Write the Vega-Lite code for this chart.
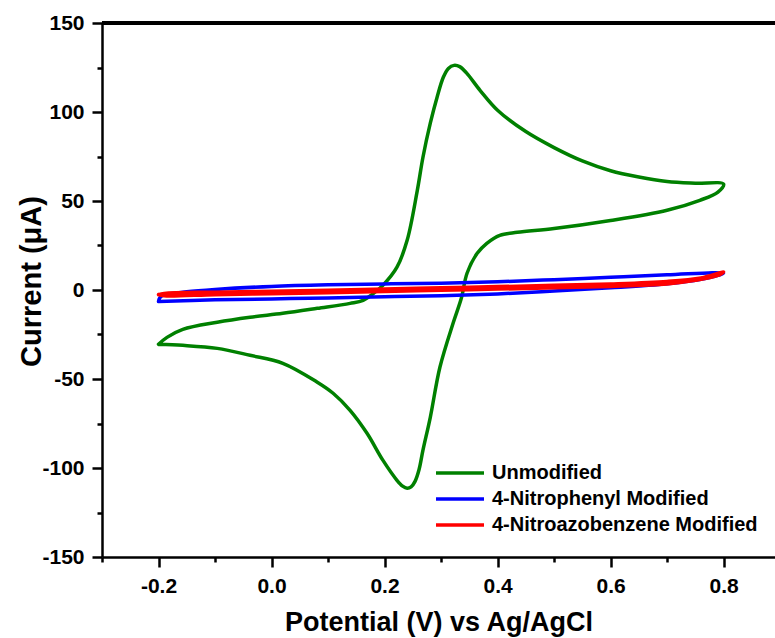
{
  "$schema": "https://vega.github.io/schema/vega-lite/v6.json",
  "width": 673,
  "height": 534,
  "autosize": {"type": "none"},
  "padding": {"left": 102, "top": 23, "right": 0, "bottom": 81},
  "background": "white",
  "config": {"view": {"stroke": null}, "font": "Liberation Sans"},
  "data": {"values": [
    {"s": "Unmodified", "i": 1, "v": -0.2, "c": -30.5},
    {"s": "Unmodified", "i": 2, "v": -0.185, "c": -26.6},
    {"s": "Unmodified", "i": 3, "v": -0.157, "c": -22.1},
    {"s": "Unmodified", "i": 4, "v": -0.096, "c": -18.1},
    {"s": "Unmodified", "i": 5, "v": -0.038, "c": -15.3},
    {"s": "Unmodified", "i": 6, "v": 0.02, "c": -13.1},
    {"s": "Unmodified", "i": 7, "v": 0.081, "c": -10.3},
    {"s": "Unmodified", "i": 8, "v": 0.139, "c": -7.5},
    {"s": "Unmodified", "i": 9, "v": 0.162, "c": -5.8},
    {"s": "Unmodified", "i": 10, "v": 0.18, "c": -2.0},
    {"s": "Unmodified", "i": 11, "v": 0.197, "c": 2.6},
    {"s": "Unmodified", "i": 12, "v": 0.222, "c": 12.8},
    {"s": "Unmodified", "i": 13, "v": 0.24, "c": 27.9},
    {"s": "Unmodified", "i": 14, "v": 0.258, "c": 56},
    {"s": "Unmodified", "i": 15, "v": 0.268, "c": 74.6},
    {"s": "Unmodified", "i": 16, "v": 0.281, "c": 93.7},
    {"s": "Unmodified", "i": 17, "v": 0.293, "c": 108.3},
    {"s": "Unmodified", "i": 18, "v": 0.304, "c": 119.5},
    {"s": "Unmodified", "i": 19, "v": 0.313, "c": 124.5},
    {"s": "Unmodified", "i": 20, "v": 0.323, "c": 126.2},
    {"s": "Unmodified", "i": 21, "v": 0.333, "c": 125.5},
    {"s": "Unmodified", "i": 22, "v": 0.345, "c": 122},
    {"s": "Unmodified", "i": 23, "v": 0.369, "c": 112.2},
    {"s": "Unmodified", "i": 24, "v": 0.4, "c": 101},
    {"s": "Unmodified", "i": 25, "v": 0.45, "c": 89},
    {"s": "Unmodified", "i": 26, "v": 0.5, "c": 80},
    {"s": "Unmodified", "i": 27, "v": 0.55, "c": 72.5},
    {"s": "Unmodified", "i": 28, "v": 0.6, "c": 67},
    {"s": "Unmodified", "i": 29, "v": 0.65, "c": 63.5},
    {"s": "Unmodified", "i": 30, "v": 0.7, "c": 61},
    {"s": "Unmodified", "i": 31, "v": 0.75, "c": 60},
    {"s": "Unmodified", "i": 32, "v": 0.8, "c": 59.5},
    {"s": "Unmodified", "i": 33, "v": 0.79, "c": 55},
    {"s": "Unmodified", "i": 34, "v": 0.758, "c": 50.4},
    {"s": "Unmodified", "i": 35, "v": 0.7, "c": 44.8},
    {"s": "Unmodified", "i": 36, "v": 0.6, "c": 39},
    {"s": "Unmodified", "i": 37, "v": 0.5, "c": 34.5},
    {"s": "Unmodified", "i": 38, "v": 0.435, "c": 32.4},
    {"s": "Unmodified", "i": 39, "v": 0.404, "c": 30.7},
    {"s": "Unmodified", "i": 40, "v": 0.381, "c": 26.2},
    {"s": "Unmodified", "i": 41, "v": 0.364, "c": 20.6},
    {"s": "Unmodified", "i": 42, "v": 0.346, "c": 9.4},
    {"s": "Unmodified", "i": 43, "v": 0.336, "c": -4.5},
    {"s": "Unmodified", "i": 44, "v": 0.322, "c": -18},
    {"s": "Unmodified", "i": 45, "v": 0.298, "c": -43.4},
    {"s": "Unmodified", "i": 46, "v": 0.281, "c": -71.5},
    {"s": "Unmodified", "i": 47, "v": 0.268, "c": -90},
    {"s": "Unmodified", "i": 48, "v": 0.261, "c": -101},
    {"s": "Unmodified", "i": 49, "v": 0.254, "c": -107.5},
    {"s": "Unmodified", "i": 50, "v": 0.247, "c": -110.6},
    {"s": "Unmodified", "i": 51, "v": 0.24, "c": -111.4},
    {"s": "Unmodified", "i": 52, "v": 0.232, "c": -110.2},
    {"s": "Unmodified", "i": 53, "v": 0.222, "c": -106.9},
    {"s": "Unmodified", "i": 54, "v": 0.197, "c": -95.6},
    {"s": "Unmodified", "i": 55, "v": 0.169, "c": -80.5},
    {"s": "Unmodified", "i": 56, "v": 0.139, "c": -67.6},
    {"s": "Unmodified", "i": 57, "v": 0.109, "c": -58},
    {"s": "Unmodified", "i": 58, "v": 0.081, "c": -51.8},
    {"s": "Unmodified", "i": 59, "v": 0.02, "c": -41.2},
    {"s": "Unmodified", "i": 60, "v": -0.038, "c": -36.7},
    {"s": "Unmodified", "i": 61, "v": -0.096, "c": -32.8},
    {"s": "Unmodified", "i": 62, "v": -0.157, "c": -31.1},
    {"s": "Unmodified", "i": 63, "v": -0.2, "c": -30.5},

    {"s": "4-Nitrophenyl Modified", "i": 1, "v": -0.2, "c": -6.5},
    {"s": "4-Nitrophenyl Modified", "i": 2, "v": -0.198, "c": -4.5},
    {"s": "4-Nitrophenyl Modified", "i": 3, "v": -0.19, "c": -2.8},
    {"s": "4-Nitrophenyl Modified", "i": 4, "v": -0.15, "c": -1.0},
    {"s": "4-Nitrophenyl Modified", "i": 5, "v": -0.1, "c": 0.3},
    {"s": "4-Nitrophenyl Modified", "i": 6, "v": 0.0, "c": 2.0},
    {"s": "4-Nitrophenyl Modified", "i": 7, "v": 0.1, "c": 2.9},
    {"s": "4-Nitrophenyl Modified", "i": 8, "v": 0.2, "c": 3.4},
    {"s": "4-Nitrophenyl Modified", "i": 9, "v": 0.3, "c": 3.8},
    {"s": "4-Nitrophenyl Modified", "i": 10, "v": 0.4, "c": 4.6},
    {"s": "4-Nitrophenyl Modified", "i": 11, "v": 0.5, "c": 5.8},
    {"s": "4-Nitrophenyl Modified", "i": 12, "v": 0.6, "c": 7.2},
    {"s": "4-Nitrophenyl Modified", "i": 13, "v": 0.7, "c": 8.5},
    {"s": "4-Nitrophenyl Modified", "i": 14, "v": 0.8, "c": 9.5},
    {"s": "4-Nitrophenyl Modified", "i": 15, "v": 0.79, "c": 8.2},
    {"s": "4-Nitrophenyl Modified", "i": 16, "v": 0.76, "c": 6.0},
    {"s": "4-Nitrophenyl Modified", "i": 17, "v": 0.7, "c": 3.5},
    {"s": "4-Nitrophenyl Modified", "i": 18, "v": 0.6, "c": 1.2},
    {"s": "4-Nitrophenyl Modified", "i": 19, "v": 0.5, "c": -0.6},
    {"s": "4-Nitrophenyl Modified", "i": 20, "v": 0.4, "c": -2.2},
    {"s": "4-Nitrophenyl Modified", "i": 21, "v": 0.3, "c": -3.2},
    {"s": "4-Nitrophenyl Modified", "i": 22, "v": 0.2, "c": -3.8},
    {"s": "4-Nitrophenyl Modified", "i": 23, "v": 0.1, "c": -4.5},
    {"s": "4-Nitrophenyl Modified", "i": 24, "v": 0.0, "c": -5.0},
    {"s": "4-Nitrophenyl Modified", "i": 25, "v": -0.1, "c": -5.5},
    {"s": "4-Nitrophenyl Modified", "i": 26, "v": -0.2, "c": -6.5},

    {"s": "4-Nitroazobenzene Modified", "i": 1, "v": -0.2, "c": -2.6},
    {"s": "4-Nitroazobenzene Modified", "i": 2, "v": -0.19, "c": -1.9},
    {"s": "4-Nitroazobenzene Modified", "i": 3, "v": -0.1, "c": -1.2},
    {"s": "4-Nitroazobenzene Modified", "i": 4, "v": 0.0, "c": -0.7},
    {"s": "4-Nitroazobenzene Modified", "i": 5, "v": 0.1, "c": -0.1},
    {"s": "4-Nitroazobenzene Modified", "i": 6, "v": 0.2, "c": 0.6},
    {"s": "4-Nitroazobenzene Modified", "i": 7, "v": 0.3, "c": 1.3},
    {"s": "4-Nitroazobenzene Modified", "i": 8, "v": 0.4, "c": 1.9},
    {"s": "4-Nitroazobenzene Modified", "i": 9, "v": 0.5, "c": 2.6},
    {"s": "4-Nitroazobenzene Modified", "i": 10, "v": 0.6, "c": 3.4},
    {"s": "4-Nitroazobenzene Modified", "i": 11, "v": 0.7, "c": 4.8},
    {"s": "4-Nitroazobenzene Modified", "i": 12, "v": 0.76, "c": 6.8},
    {"s": "4-Nitroazobenzene Modified", "i": 13, "v": 0.8, "c": 10.1},
    {"s": "4-Nitroazobenzene Modified", "i": 14, "v": 0.79, "c": 8.2},
    {"s": "4-Nitroazobenzene Modified", "i": 15, "v": 0.75, "c": 5.4},
    {"s": "4-Nitroazobenzene Modified", "i": 16, "v": 0.7, "c": 3.4},
    {"s": "4-Nitroazobenzene Modified", "i": 17, "v": 0.6, "c": 2.0},
    {"s": "4-Nitroazobenzene Modified", "i": 18, "v": 0.5, "c": 1.2},
    {"s": "4-Nitroazobenzene Modified", "i": 19, "v": 0.4, "c": 0.5},
    {"s": "4-Nitroazobenzene Modified", "i": 20, "v": 0.3, "c": -0.1},
    {"s": "4-Nitroazobenzene Modified", "i": 21, "v": 0.2, "c": -0.8},
    {"s": "4-Nitroazobenzene Modified", "i": 22, "v": 0.1, "c": -1.5},
    {"s": "4-Nitroazobenzene Modified", "i": 23, "v": 0.0, "c": -2.1},
    {"s": "4-Nitroazobenzene Modified", "i": 24, "v": -0.1, "c": -2.6},
    {"s": "4-Nitroazobenzene Modified", "i": 25, "v": -0.19, "c": -3.3},
    {"s": "4-Nitroazobenzene Modified", "i": 26, "v": -0.2, "c": -2.6}
  ]},
  "layer": [
    {
      "mark": {"type": "rule", "color": "black", "strokeWidth": 2.5},
      "encoding": {"y": {"datum": 150, "type": "quantitative"}}
    },
    {
      "mark": {"type": "line", "strokeWidth": 3.5, "strokeJoin": "round", "strokeCap": "round", "interpolate": "catmull-rom"},
      "encoding": {
        "x": {
          "field": "v", "type": "quantitative",
          "scale": {"domain": [-0.3, 0.891], "nice": false, "zero": false},
          "axis": {
            "title": "Potential (V) vs Ag/AgCl",
            "values": [-0.3, -0.2, -0.1, 0, 0.1, 0.2, 0.3, 0.4, 0.5, 0.6, 0.7, 0.8],
            "labelExpr": "abs(round(datum.value*10)) % 2 === 1 ? '' : replace(format(datum.value, '.1f'), '\u2212', '-')",
            "tickSize": {"condition": {"test": "abs(round(datum.value*10)) % 2 === 1", "value": 5}, "value": 10},
            "tickWidth": 2.5, "tickColor": "black",
            "domainColor": "black", "domainWidth": 2.5,
            "grid": false, "labelOverlap": false, "labelFlush": false,
            "labelFont": "Liberation Sans", "labelFontWeight": "bold", "labelFontSize": 21, "labelColor": "black",
            "labelPadding": 8,
            "titleFont": "Liberation Sans", "titleFontWeight": "bold", "titleFontSize": 27, "titleColor": "black",
            "titlePadding": 13
          }
        },
        "y": {
          "field": "c", "type": "quantitative",
          "scale": {"domain": [-150, 150], "nice": false},
          "axis": {
            "title": "Current (μA)",
            "values": [-150, -125, -100, -75, -50, -25, 0, 25, 50, 75, 100, 125, 150],
            "labelExpr": "datum.value % 50 === 0 ? '' + datum.value : ''",
            "tickSize": {"condition": {"test": "datum.value % 50 !== 0", "value": 5}, "value": 10},
            "tickWidth": 2.5, "tickColor": "black",
            "domainColor": "black", "domainWidth": 2.5,
            "grid": false, "labelOverlap": false, "labelFlush": false,
            "labelFont": "Liberation Sans", "labelFontWeight": "bold", "labelFontSize": 21, "labelColor": "black",
            "labelPadding": 8,
            "titleFont": "Liberation Sans", "titleFontWeight": "bold", "titleFontSize": 29, "titleColor": "black",
            "titlePadding": -5, "titleY": 258
          }
        },
        "color": {
          "field": "s", "type": "nominal",
          "scale": {"domain": ["Unmodified", "4-Nitrophenyl Modified", "4-Nitroazobenzene Modified"], "range": ["#008000", "#0000ff", "#ff0000"]},
          "legend": {
            "orient": "none", "legendX": 344, "legendY": 436, "title": null,
            "symbolType": "M-2,0H2", "symbolSize": 576, "symbolStrokeWidth": 3.5,
            "labelFont": "Liberation Sans", "labelFontWeight": "bold", "labelFontSize": 20, "labelColor": "black",
            "labelOffset": 18, "rowPadding": 2, "labelLimit": 0
          }
        },
        "order": {"field": "i", "type": "quantitative"}
      }
    }
  ]
}
